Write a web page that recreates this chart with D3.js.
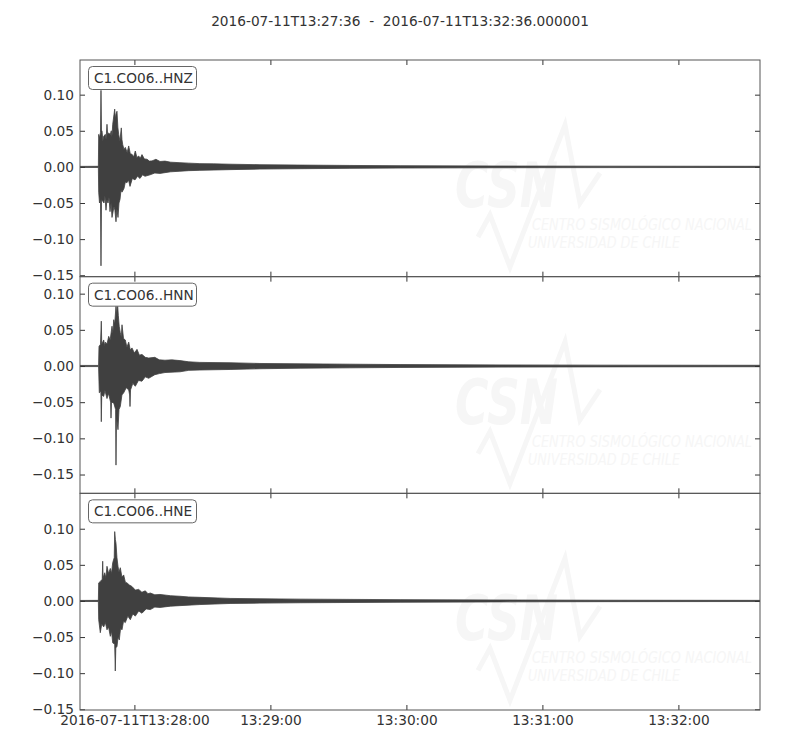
<!DOCTYPE html>
<html>
<head>
<meta charset="utf-8">
<script src="https://cdn.jsdelivr.net/npm/d3@7"></script>
<style>
body { margin: 0; background: #fff; }
svg text { font-family: 'DejaVu Sans', sans-serif; fill: #333; }
</style>
</head>
<body>
<svg></svg>
<script>
// chart data
const startTime = '2016-07-11T13:27:36Z';
const spanSeconds = 300;
const titleText = '2016-07-11T13:27:36  -  2016-07-11T13:32:36.000001';
const channels = ['C1.CO06..HNZ', 'C1.CO06..HNN', 'C1.CO06..HNE'];
const yLimits = [[-0.152, 0.148], [-0.176, 0.1235], [-0.151, 0.149]];
const yTicks = [-0.15, -0.10, -0.05, 0.00, 0.05, 0.10];

// envelope of each trace: [seconds after start, amplitude]
const hnzUpper = [[0,0.0007],[8.1,0.0008],[8.25,0.045],[8.6,0.04],[9.04,0.048],[9.26,0.106],[9.49,0.05],[9.71,0.05],
  [10.1,0.036],[10.4,0.042],[11.16,0.045],[11.5,0.038],[11.91,0.059],[12.2,0.044],[12.6,0.047],[13.37,0.045],
  [13.8,0.05],[14.1,0.042],[14.43,0.059],[15.31,0.08],[15.6,0.066],[15.88,0.073],[16.32,0.077],[16.7,0.055],
  [17.07,0.045],[17.6,0.036],[18.22,0.054],[18.5,0.038],[18.84,0.031],[19.4,0.024],[19.99,0.027],[20.8,0.02],
  [21.49,0.029],[22.2,0.018],[22.94,0.0175],[23.7,0.014],[24.4,0.022],[25.1,0.013],[25.9,0.015],[26.6,0.012],
  [27.35,0.017],[28.4,0.011],[29.56,0.0106],[30.6,0.008],[31.76,0.0083],[33.5,0.0105],[35.3,0.0075],[37.5,0.008],
  [40,0.0065],[44.1,0.0058],[48,0.0052],[52.9,0.0045],[59,0.0042],[66.2,0.0037],[79.4,0.003],[97.1,0.0025],
  [119.1,0.002],[141.2,0.0016],[185.3,0.0012],[229.4,0.001],[300,0.0008]];
const hnzLower = [[0,-0.0007],[8.1,-0.0008],[8.25,-0.035],[8.6,-0.05],[9.04,-0.045],[9.26,-0.137],[9.49,-0.045],
  [10.59,-0.05],[11.0,-0.04],[11.47,-0.06],[11.9,-0.045],[12.35,-0.05],[12.8,-0.042],[13.24,-0.062],[13.7,-0.05],
  [14.12,-0.07],[15.0,-0.055],[15.4,-0.06],[15.88,-0.076],[16.3,-0.058],[16.76,-0.07],[17.2,-0.05],[17.65,-0.045],
  [18.1,-0.032],[18.53,-0.035],[19.41,-0.03],[20.0,-0.021],[20.7,-0.022],[21.4,-0.018],[22.06,-0.027],
  [23.1,-0.016],[24.26,-0.018],[25.4,-0.013],[26.47,-0.016],[27.6,-0.011],[28.68,-0.013],[30.88,-0.011],
  [33,-0.0085],[35.3,-0.009],[40,-0.0068],[44.1,-0.006],[48,-0.0052],[52.9,-0.0048],[66.2,-0.0038],
  [79.4,-0.003],[97.1,-0.0025],[119.1,-0.002],[141.2,-0.0016],[185.3,-0.0012],[229.4,-0.001],[300,-0.0008]];

const hnnUpper = [[0,0.0008],[8.2,0.0008],[8.38,0.027],[9.04,0.03],[9.4,0.062],[9.6,0.03],[10.46,0.036],
  [10.9,0.028],[11.25,0.033],[11.9,0.03],[12.66,0.041],[13.3,0.036],[14.12,0.055],[14.5,0.045],[14.87,0.064],
  [15.3,0.058],[15.88,0.083],[16.2,0.07],[16.54,0.088],[16.9,0.07],[17.3,0.055],[17.78,0.046],[18.2,0.04],
  [18.53,0.057],[19.2,0.038],[19.99,0.036],[20.7,0.026],[21.49,0.033],[22.2,0.022],[22.94,0.025],[24,0.018],
  [25.15,0.023],[26.2,0.015],[27.35,0.016],[28.8,0.012],[30.31,0.011],[33,0.012],[35,0.0085],[37.5,0.008],
  [40.5,0.0085],[44.1,0.0075],[48,0.0058],[52.9,0.005],[66.2,0.0045],[79.4,0.0035],[97.1,0.003],[119.1,0.0025],
  [141.2,0.002],[185.3,0.0015],[229.4,0.0012],[300,0.001]];
const hnnLower = [[0,-0.0008],[8.2,-0.0008],[8.51,-0.037],[9.2,-0.035],[9.4,-0.077],[9.6,-0.04],[10.46,-0.042],
  [11.0,-0.034],[11.91,-0.045],[12.6,-0.038],[13.5,-0.05],[13.68,-0.072],[13.9,-0.05],[14.87,-0.051],[15.7,-0.06],
  [15.88,-0.137],[16.1,-0.07],[16.76,-0.088],[17.2,-0.06],[17.78,-0.056],[18.5,-0.04],[19.28,-0.037],
  [20.4,-0.03],[21.49,-0.033],[21.9,-0.04],[22.06,-0.056],[22.3,-0.033],[23.3,-0.024],[24.4,-0.028],
  [25.8,-0.02],[27.35,-0.021],[28.8,-0.015],[30.31,-0.017],[33,-0.012],[35,-0.0105],[37.5,-0.009],[44.1,-0.008],
  [48,-0.006],[52.9,-0.0055],[66.2,-0.0048],[79.4,-0.0038],[97.1,-0.003],[119.1,-0.0025],[141.2,-0.002],
  [185.3,-0.0015],[229.4,-0.0012],[300,-0.001]];

const hneUpper = [[0,0.0007],[8.1,0.0008],[8.25,0.025],[8.96,0.027],[9.8,0.03],[10.01,0.055],[10.2,0.032],
  [10.9,0.039],[11.4,0.032],[11.91,0.048],[12.6,0.038],[13.37,0.045],[13.9,0.038],[14.43,0.053],[15.1,0.06],
  [15.31,0.096],[15.6,0.085],[15.88,0.08],[16.3,0.06],[16.76,0.048],[17.2,0.04],[17.78,0.046],[18.5,0.033],
  [19.28,0.036],[20.0,0.026],[20.74,0.025],[21.8,0.022],[22.94,0.02],[24.4,0.015],[25.9,0.016],[27.3,0.012],
  [28.81,0.014],[30,0.01],[31.01,0.011],[33,0.0085],[35.3,0.009],[40,0.0072],[44.1,0.0065],[48,0.0055],
  [52.9,0.005],[66.2,0.0035],[79.4,0.003],[97.1,0.0025],[141.2,0.0018],[185.3,0.0013],[229.4,0.001],[300,0.0008]];
const hneLower = [[0,-0.0007],[8.1,-0.0008],[8.25,-0.026],[8.96,-0.044],[9.6,-0.032],[10.46,-0.036],
  [11.2,-0.03],[11.91,-0.04],[12.6,-0.036],[13.37,-0.049],[13.9,-0.042],[14.43,-0.058],[15.3,-0.06],
  [15.57,-0.097],[15.8,-0.065],[16.32,-0.063],[16.8,-0.05],[17.34,-0.054],[17.9,-0.038],[18.53,-0.04],
  [19.2,-0.028],[19.99,-0.03],[21.1,-0.021],[22.19,-0.026],[23.3,-0.018],[24.4,-0.021],[25.9,-0.014],
  [27.35,-0.017],[29.2,-0.011],[31.01,-0.012],[33,-0.0085],[35.3,-0.009],[40,-0.0072],[44.1,-0.0065],
  [52.9,-0.005],[66.2,-0.0035],[79.4,-0.003],[97.1,-0.0025],[141.2,-0.0018],[185.3,-0.0013],[229.4,-0.001],
  [300,-0.0008]];

const traces = [[hnzUpper, hnzLower], [hnnUpper, hnnLower], [hneUpper, hneLower]];

const size = {w: 800, h: 750};
const plot = {l: 80, r: 760, t: 60, b: 710};
const panelH = (plot.b - plot.t) / channels.length;
const fontSize = 13.7;
const traceColor = '#404040';
const markColor = '#f6f6f6';

const svg = d3.select('svg')
    .attr('width', size.w)
    .attr('height', size.h)
    .style('background', '#fff');

const t0 = new Date(startTime);
const x = d3.scaleUtc()
    .domain([t0, new Date(+t0 + spanSeconds * 1000)])
    .range([plot.l, plot.r]);
const toDate = s => new Date(+t0 + s * 1000);

const minuteTicks = x.ticks(d3.utcMinute.every(1));
const fullFmt = d3.utcFormat('%Y-%m-%dT%H:%M:%S');
const shortFmt = d3.utcFormat('%H:%M:%S');

svg.append('text')
    .attr('x', size.w / 2)
    .attr('y', 26)
    .attr('text-anchor', 'middle')
    .attr('xml:space', 'preserve')
    .style('white-space', 'pre')
    .style('font-size', fontSize + 'px')
    .text(titleText);

svg.append('defs').append('clipPath')
    .attr('id', 'clip')
    .append('rect')
    .attr('x', plot.l).attr('y', plot.t)
    .attr('width', plot.r - plot.l).attr('height', plot.b - plot.t);

channels.forEach(function (name, i) {
    const top = plot.t + i * panelH;
    const bottom = top + panelH;
    const y = d3.scaleLinear().domain(yLimits[i]).range([bottom, top]);
    const g = svg.append('g').classed('panel', true);

    // faint CSN watermark
    const wm = g.append('g');
    wm.append('path')
        .attr('d', 'M478,' + (top + 177) + 'L490,' + (top + 155) + 'L510,' + (top + 207) +
            'L565,' + (top + 65) + 'L580,' + (top + 143) + 'L600,' + (top + 113))
        .attr('fill', 'none')
        .attr('stroke', markColor)
        .attr('stroke-width', 5);
    wm.append('text')
        .attr('x', 455).attr('y', top + 147)
        .attr('textLength', 103).attr('lengthAdjust', 'spacingAndGlyphs')
        .style('font-size', '62px').style('font-weight', 'bold').style('font-style', 'italic')
        .style('fill', markColor)
        .text('CSN');
    wm.append('text')
        .attr('x', 532).attr('y', top + 170)
        .attr('textLength', 220).attr('lengthAdjust', 'spacingAndGlyphs')
        .style('font-size', '16px').style('font-style', 'italic')
        .style('fill', markColor)
        .text('CENTRO SISMOLÓGICO NACIONAL');
    wm.append('text')
        .attr('x', 528).attr('y', top + 188)
        .attr('textLength', 152).attr('lengthAdjust', 'spacingAndGlyphs')
        .style('font-size', '16px').style('font-style', 'italic')
        .style('fill', markColor)
        .text('UNIVERSIDAD DE CHILE');

    // trace envelope
    const up = traces[i][0], lo = traces[i][1];
    const pts = up.concat(lo.slice().reverse());
    const line = d3.line()
        .x(d => x(toDate(d[0])))
        .y(d => y(d[1]));
    g.append('path')
        .attr('clip-path', 'url(#clip)')
        .attr('d', line(pts) + 'Z')
        .attr('fill', traceColor)
        .attr('stroke', traceColor)
        .attr('stroke-width', 0.8)
        .attr('stroke-linejoin', 'round');

    // axes with inward ticks
    const yFmt = d3.format('.2f');
    g.append('g')
        .attr('transform', 'translate(' + plot.l + ',0)')
        .call(d3.axisLeft(y).tickValues(yTicks).tickFormat(yFmt).tickSize(-5).tickPadding(6));
    g.append('g')
        .attr('transform', 'translate(' + plot.r + ',0)')
        .call(d3.axisRight(y).tickValues(yTicks).tickFormat('').tickSize(-5));
    g.append('g')
        .attr('transform', 'translate(0,' + top + ')')
        .call(d3.axisTop(x).tickValues(minuteTicks).tickFormat('').tickSize(-5));
    g.append('g')
        .attr('transform', 'translate(0,' + bottom + ')')
        .call(d3.axisBottom(x).tickValues(minuteTicks)
            .tickFormat((d, k) => i === channels.length - 1 ? (k === 0 ? fullFmt(d) : shortFmt(d)) : '')
            .tickSize(-5).tickPadding(5));

    g.selectAll('.domain').remove();
    g.selectAll('.tick line').attr('stroke', '#333');
    g.selectAll('.tick text')
        .style('font-size', fontSize + 'px')
        .style('font-family', "'DejaVu Sans', sans-serif")
        .attr('fill', '#333');

    // frame
    g.append('rect')
        .attr('x', plot.l).attr('y', top)
        .attr('width', plot.r - plot.l).attr('height', panelH)
        .attr('fill', 'none')
        .attr('stroke', '#555')
        .attr('stroke-width', 1);

    // channel label box
    const label = g.append('g');
    label.append('rect')
        .attr('x', 88.5).attr('y', top + 6.5)
        .attr('width', 108).attr('height', 23)
        .attr('rx', 4)
        .attr('fill', '#fff')
        .attr('stroke', '#666');
    label.append('text')
        .attr('x', 94).attr('y', top + 23)
        .style('font-size', fontSize + 'px')
        .text(name);
});
</script>
</body>
</html>
